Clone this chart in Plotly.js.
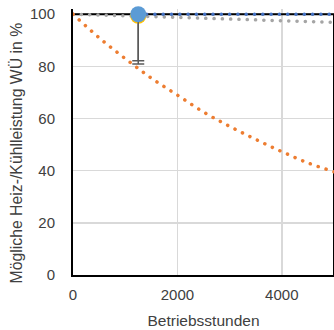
<!DOCTYPE html>
<html>
<head>
<meta charset="utf-8">
<script src="https://cdn.plot.ly/plotly-3.0.1.min.js"></script>
<style>
html,body{margin:0;padding:0;background:#fff;}
#chart{width:334px;height:330px;}
.scatterlayer .js-line{stroke-linecap:round;}
</style>
</head>
<body>
<div id="chart"></div>
<script>
// Data
const hoursGrid = [0, 1000, 2000, 3000, 4000, 5000];
const grayValues = [100, 99.4, 98.8, 98.1, 97.5, 96.9];

const hoursOrange = [0, 500, 1000, 1500, 2000, 2500, 3000, 3500, 4000, 4500, 5000];
const orangeValues = [100, 91, 83, 75.5, 69, 62.5, 57, 52, 47.3, 43, 39.6];

const hoursBlue = [1250, 5000];
const blueValues = [100, 100];

const measHours = [1250];
const measBlue = [100];
const measBlueMinus = [17.8];
const measYellow = [99.4];
const measYellowMinus = [18.5];

const xTicks = [0, 2000, 4000];
const yTicks = [0, 20, 40, 60, 80, 100];
const yTitle = 'Mögliche Heiz-/Kühlleistung WÜ in %';
const xTitle = 'Betriebsstunden';

const dotDash = "0.1px,8.2px";

const traces = [
  {x: hoursGrid, y: grayValues, mode: 'lines', line: {color: '#A5A5A5', width: 3.5, dash: dotDash}, hoverinfo: 'skip'},
  {x: hoursOrange, y: orangeValues, mode: 'lines', line: {color: '#ED7D31', width: 3.5, dash: dotDash, shape: 'spline'}, hoverinfo: 'skip'},
  {x: hoursBlue, y: blueValues, mode: 'lines', line: {color: '#4472C4', width: 3.5, dash: dotDash}, hoverinfo: 'skip'},
  {x: measHours, y: measYellow, mode: 'markers', cliponaxis: false,
   marker: {color: '#FFC000', size: 16},
   error_y: {type: 'data', symmetric: false, array: [0], arrayminus: measYellowMinus, color: '#595959', thickness: 1.5, width: 6}},
  {x: measHours, y: measBlue, mode: 'markers', cliponaxis: false,
   marker: {color: '#5B9BD5', size: 16},
   error_y: {type: 'data', symmetric: false, array: [0], arrayminus: measBlueMinus, color: '#595959', thickness: 1.5, width: 6}}
];

const layout = {
  width: 334, height: 330,
  margin: {l: 73, r: 0, t: 9, b: 55},
  paper_bgcolor: '#ffffff', plot_bgcolor: '#ffffff',
  showlegend: false,
  font: {family: 'Liberation Sans, Arial, sans-serif', color: '#404040', size: 15},
  xaxis: {
    range: [0, 5000], tickvals: xTicks, ticktext: xTicks.map(String),
    showgrid: true, gridcolor: '#D9D9D9', gridwidth: 1.5, zeroline: false,
    showline: true, linecolor: '#000000', linewidth: 2,
    ticks: '', ticklabelstandoff: 5,
    tickfont: {size: 15, color: '#404040'},
    title: {text: xTitle, font: {size: 15.5, color: '#404040'}, standoff: 13}
  },
  yaxis: {
    range: [0, 102], tickvals: yTicks, ticktext: yTicks.map(String),
    showgrid: true, gridcolor: '#D9D9D9', gridwidth: 1.5, zeroline: false,
    showline: true, linecolor: '#000000', linewidth: 2,
    ticks: '', ticklabelstandoff: 13,
    tickfont: {size: 15, color: '#404040'}
  },
  annotations: [
    {text: yTitle, textangle: -90, showarrow: false,
     xref: 'paper', yref: 'paper', x: 0, y: 0.4586, xanchor: 'center', yanchor: 'middle',
     xshift: -56.5, font: {size: 15.8, color: '#404040'}}
  ],
  shapes: [
    {type: 'line', xref: 'x', yref: 'y', x0: 0, x1: 5000, y0: 100, y1: 100, line: {color: '#000000', width: 2}, layer: 'between'},
    {type: 'line', xref: 'x', yref: 'y', x0: 5000, x1: 5000, y0: 0, y1: 100, line: {color: '#000000', width: 2}, layer: 'between'}
  ]
};

Plotly.newPlot('chart', traces, layout, {staticPlot: true, displayModeBar: false});
</script>
</body>
</html>
